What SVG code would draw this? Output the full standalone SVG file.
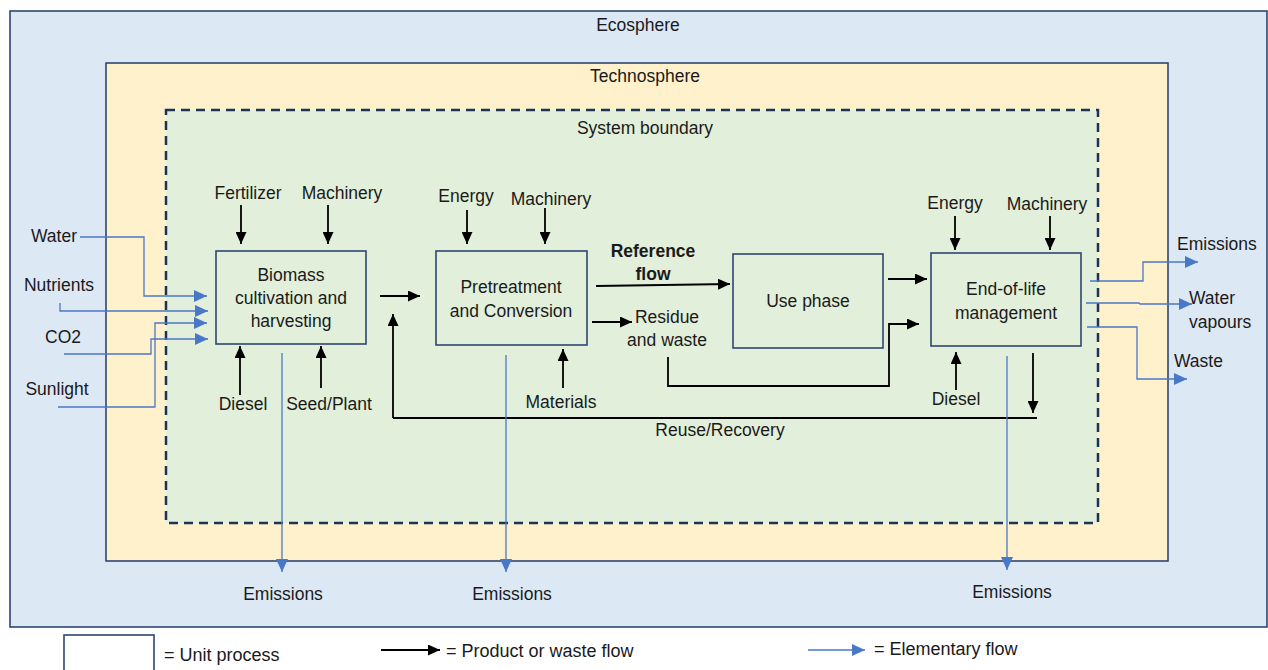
<svg xmlns="http://www.w3.org/2000/svg" width="1268" height="670" viewBox="0 0 1268 670">
<style>
text{font-family:"Liberation Sans",Arial,sans-serif;font-size:17.5px;fill:#1a1a1a}
.c{text-anchor:middle}
.box{fill:none;stroke:#2f4670;stroke-width:1.6}
.blk{fill:none;stroke:#000;stroke-width:1.8;marker-end:url(#ab)}
.bln{fill:none;stroke:#000;stroke-width:1.8}
.blu{fill:none;stroke:#4a78c8;stroke-width:1.3;marker-end:url(#au)}
.lg{font-size:18px}
</style>
<defs>
<marker id="ab" markerUnits="userSpaceOnUse" markerWidth="12" markerHeight="11" refX="12" refY="5.5" orient="auto"><path d="M0,0 L12,5.5 L0,11 z" fill="#000"/></marker>
<marker id="au" markerUnits="userSpaceOnUse" markerWidth="13" markerHeight="12" refX="13" refY="6" orient="auto"><path d="M0,0 L13,6 L0,12 z" fill="#4a78c8"/></marker>
</defs>
<g id="ecosphere">
<rect x="10" y="11" width="1257" height="616" fill="#dde8f5" stroke="#2f4670" stroke-width="1.6"/>
<text class="c" x="638" y="31">Ecosphere</text>
</g>
<g id="technosphere">
<rect x="106" y="63" width="1062" height="498" fill="#fff1cc" stroke="#2f4670" stroke-width="1.6"/>
<text class="c" x="645" y="82">Technosphere</text>
</g>
<g id="system-boundary">
<rect x="166" y="110" width="932" height="413" fill="#e2efda" stroke="#1f3454" stroke-width="2.5" stroke-dasharray="9,6"/>
<text class="c" x="645" y="134">System boundary</text>
</g>
<g id="biomass">
<rect class="box" x="216" y="251" width="150" height="93"/>
<text class="c" x="291" y="281">Biomass</text>
<text class="c" x="291" y="304">cultivation and</text>
<text class="c" x="291" y="327">harvesting</text>
</g>
<g id="pretreatment">
<rect class="box" x="436" y="251" width="151" height="94"/>
<text class="c" x="511" y="293">Pretreatment</text>
<text class="c" x="511" y="317">and Conversion</text>
</g>
<g id="use-phase">
<rect class="box" x="733" y="254" width="150" height="94"/>
<text class="c" x="808" y="307">Use phase</text>
</g>
<g id="end-of-life">
<rect class="box" x="931" y="253" width="150" height="93"/>
<text class="c" x="1006" y="295">End-of-life</text>
<text class="c" x="1006" y="319">management</text>
</g>
<g id="labels">
<text class="c" x="248" y="199">Fertilizer</text>
<text class="c" x="342" y="199">Machinery</text>
<text class="c" x="243" y="410">Diesel</text>
<text class="c" x="329" y="410">Seed/Plant</text>
<text class="c" x="466" y="202">Energy</text>
<text class="c" x="551" y="205">Machinery</text>
<text class="c" x="561" y="408">Materials</text>
<text class="c" x="955" y="209">Energy</text>
<text class="c" x="1047" y="210">Machinery</text>
<text class="c" x="956" y="405">Diesel</text>
<text class="c" x="653" y="257" font-weight="bold">Reference</text>
<text class="c" x="653" y="280" font-weight="bold">flow</text>
<text class="c" x="667" y="323">Residue</text>
<text class="c" x="667" y="346">and waste</text>
<text class="c" x="720" y="436">Reuse/Recovery</text>
<text class="c" x="283" y="600">Emissions</text>
<text class="c" x="512" y="600">Emissions</text>
<text class="c" x="1012" y="598">Emissions</text>
<text x="1177" y="250">Emissions</text>
<text x="1189" y="304">Water</text>
<text x="1189" y="328">vapours</text>
<text x="1174" y="367">Waste</text>
<text class="c" x="54" y="242">Water</text>
<text class="c" x="59" y="291">Nutrients</text>
<text class="c" x="63" y="343">CO2</text>
<text class="c" x="57" y="395">Sunlight</text>
</g>
<g id="connectors">
<path class="blk" d="M241,205 V244"/>
<path class="blk" d="M328,205 V244"/>
<path class="blk" d="M240,395 V346"/>
<path class="blk" d="M321,388 V346"/>
<path class="blk" d="M380,296 H420"/>
<path class="blk" d="M467,210 V244"/>
<path class="blk" d="M545,208 V244"/>
<path class="blk" d="M563,388 V349"/>
<path class="blk" d="M596,286 L730,284"/>
<path class="blk" d="M592,322 H632"/>
<path class="blk" d="M668,357 V386 H889 V324 H919"/>
<path class="blk" d="M888,279 H927"/>
<path class="blk" d="M955,216 V250"/>
<path class="blk" d="M1050,216 V250"/>
<path class="blk" d="M956,390 V352"/>
<path class="blk" d="M1033,353 V413"/>
<path class="bln" d="M1037,418 H393"/>
<path class="blk" d="M393,418 V314"/>
<path class="blu" d="M80,237 H144 V296 H207"/>
<path class="blu" d="M60,303 V311 H208"/>
<path class="blu" d="M64,354 H151 V339 H208"/>
<path class="blu" d="M58,407 H155 V323 H207"/>
<path class="blu" d="M1090,281 H1143 V262 H1198"/>
<path class="blu" d="M1086,303 H1139 L1140,304 H1192"/>
<path class="blu" d="M1087,327 H1137 V379 H1187"/>
<path class="blu" d="M282,353 V572"/>
<path class="blu" d="M506,355 V572"/>
<path class="blu" d="M1007,356 V570"/>
</g>
<g id="legend">
<rect x="64" y="635" width="90" height="45" fill="#fff" stroke="#2f4670" stroke-width="1.6"/>
<text class="lg" x="164" y="661">= Unit process</text>
<path class="blk" d="M381,650 H440"/>
<text class="lg" x="446" y="657">= Product or waste flow</text>
<path class="blu" d="M808,650 H865"/>
<text class="lg" x="874" y="655">= Elementary flow</text>
</g>
</svg>
